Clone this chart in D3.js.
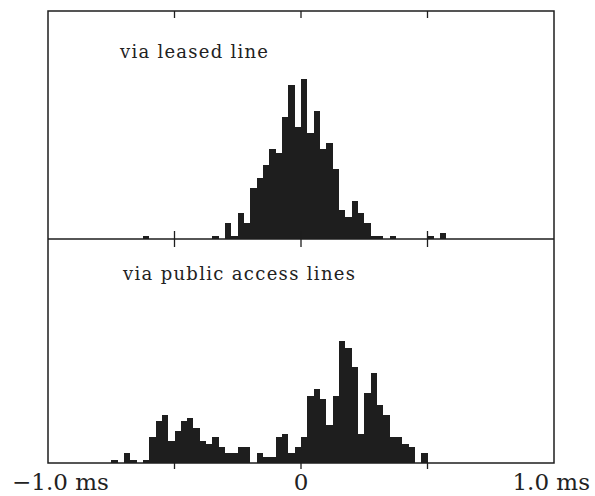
<!DOCTYPE html>
<html>
<head>
<meta charset="utf-8">
<title>Histogramme</title>
<style>
  body { margin: 0; background: #fff; }
  svg { display: block; }
  text { font-family: "DejaVu Serif", serif; fill: #222; }
</style>
</head>
<body>
<svg id="grafico" width="595" height="496"></svg>
<script src="https://d3js.org/d3.v7.min.js"></script>
<script>
// bins of 0.025 ms, index k -> [k*0.025, (k+1)*0.025]
var binWidth = 0.025;

var leasedBins   = [-25, -14, -12, -11, -10, -9, -8, -7, -6, -5, -4, -3, -2, -1, 0, 1, 2, 3, 4, 5, 6, 7, 8, 9, 10, 11, 12, 14, 20, 22];
var leasedCounts = [  1,   1,   5,   1,   8,  5, 16, 19, 23, 28, 27, 38, 48, 35, 50, 33, 40, 28, 30, 22, 9, 7, 12, 8, 5, 1, 1, 1, 1, 2];

var publicBins   = [-30, -28, -27, -25, -24, -23, -22, -21, -20, -19, -18, -17, -16, -15, -14, -13, -12, -11, -10, -9, -7, -6, -5, -4, -3, -2, -1, 0, 1, 2, 3, 4, 5, 6, 7, 8, 9, 10, 11, 12, 13, 14, 15, 16, 17, 19];
var publicCounts = [  1,   3,   1,   1,   8,  13,  15,   7,  10,  13,  14,  11,   7,   6,   8,   5,   3,   3,   5,  5,  3,  2,  2,  8,  9,  3,  5, 8, 21, 23, 20, 12, 21, 38, 36, 30, 9, 22, 28, 18, 15, 8, 8, 6, 5, 3];

var tickValues = [-0.5, 0, 0.5];
var axisLabels = ["\u22121.0 ms", "0", "1.0 ms"];
var panelLabels = ["via leased line", "via public access lines"];

var svg = d3.select("#grafico");

var x = d3.scaleLinear().domain([-1, 1]).range([48, 554]);
var h = d3.scaleLinear().domain([0, 70]).range([0, 224]);

var top0 = 11, mid = 239, bottom = 463;
var ink = "#1e1e1e";

function histograma(bins, counts, base) {
    var dados = bins.map(function (k, i) { return { k: k, n: counts[i] }; });
    svg.append("g")
        .selectAll("rect")
        .data(dados)
        .enter()
        .append("rect")
        .attr("x", function (d) { return x(d.k * binWidth); })
        .attr("width", function (d) { return x((d.k + 1) * binWidth) - x(d.k * binWidth); })
        .attr("y", function (d) { return base - h(d.n); })
        .attr("height", function (d) { return h(d.n); })
        .attr("shape-rendering", "crispEdges")
        .style("fill", ink);
}

histograma(leasedBins, leasedCounts, mid);
histograma(publicBins, publicCounts, bottom);

// moldura
svg.append("rect")
    .attr("x", x(-1)).attr("y", top0)
    .attr("width", x(1) - x(-1)).attr("height", bottom - top0)
    .style("fill", "none").style("stroke", ink).style("stroke-width", 1.5);

svg.append("line")
    .attr("x1", x(-1)).attr("x2", x(1))
    .attr("y1", mid).attr("y2", mid)
    .style("stroke", ink).style("stroke-width", 1.5);

// marcas
var g = svg.append("g").style("stroke", ink).style("stroke-width", 1.3);
tickValues.forEach(function (t) {
    g.append("line").attr("x1", x(t)).attr("x2", x(t)).attr("y1", top0).attr("y2", top0 + 7);
    g.append("line").attr("x1", x(t)).attr("x2", x(t)).attr("y1", mid - 8).attr("y2", mid + 8);
    g.append("line").attr("x1", x(t)).attr("x2", x(t)).attr("y1", bottom).attr("y2", bottom + 6);
});

// rótulos do eixo
svg.append("text").attr("x", x(-1) - 36).attr("y", 490)
    .style("font-size", "23px").text(axisLabels[0]);
svg.append("text").attr("x", x(0)).attr("y", 490).attr("text-anchor", "middle")
    .style("font-size", "23px").text(axisLabels[1]);
svg.append("text").attr("x", 590).attr("y", 490).attr("text-anchor", "end")
    .style("font-size", "23px").text(axisLabels[2]);

// rótulos dos painéis
svg.append("text").attr("x", 120).attr("y", 57.5)
    .attr("textLength", 148).attr("lengthAdjust", "spacing")
    .style("font-size", "18px").text(panelLabels[0]);
svg.append("text").attr("x", 123).attr("y", 279.5)
    .attr("textLength", 232).attr("lengthAdjust", "spacing")
    .style("font-size", "18px").text(panelLabels[1]);
</script>
</body>
</html>
